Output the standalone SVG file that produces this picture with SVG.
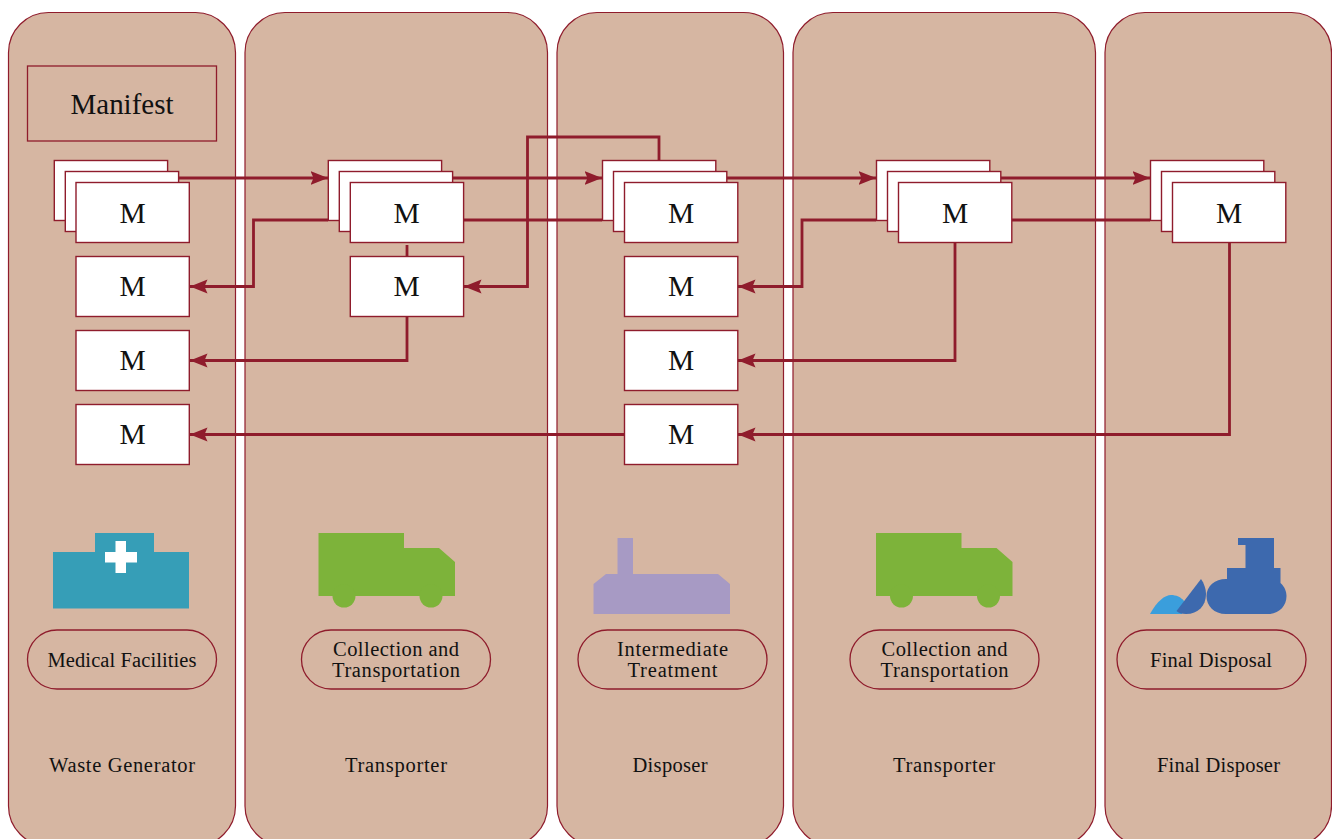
<svg xmlns="http://www.w3.org/2000/svg" width="1332" height="839" viewBox="0 0 1332 839">
<style>
.p{fill:#d6b6a2;stroke:#8f1c2c;stroke-width:1.2}
.m{fill:#fff;stroke:#8f1c2c;stroke-width:1.4}
.o{fill:none;stroke:#8f1c2c;stroke-width:1.3}
.c{fill:none;stroke:#8f1c2c;stroke-width:2.8;stroke-linejoin:miter}
text{font-family:"Liberation Serif","Times New Roman",serif;fill:#111;text-anchor:middle}
.t{font-size:20.5px}
.g{font-size:29.5px}
</style>
<defs>
<marker id="a" markerUnits="userSpaceOnUse" markerWidth="18" markerHeight="15" refX="17.500" refY="7" orient="auto"><path d="M0 0L17.500 7L0 14L3 7Z" fill="#8f1c2c"/></marker>
<g id="mb"><rect class="m" width="113.300" height="60"/></g>
</defs>
<g id="panels">
<rect class="p" x="8.500" y="12.500" width="227" height="833.500" rx="40"/>
<rect class="p" x="245" y="12.500" width="302.500" height="833.500" rx="40"/>
<rect class="p" x="557" y="12.500" width="226.500" height="833.500" rx="40"/>
<rect class="p" x="793" y="12.500" width="302.500" height="833.500" rx="40"/>
<rect class="p" x="1105" y="12.500" width="226.500" height="833.500" rx="40"/>
</g>
<g id="manifest"><rect class="o" x="27.500" y="66" width="189" height="75"/><text x="122" y="113.500" style="font-size:29px" textLength="103" lengthAdjust="spacing">Manifest</text></g>
<g id="connectors-back">
<path class="c" d="M464 220H602"/>
<path class="c" d="M1012 220H1150"/>
</g>
<g id="col1">
<use href="#mb" x="54.300" y="160.500"/><use href="#mb" x="65.300" y="171.500"/><use href="#mb" x="76" y="182.500"/>
<use href="#mb" x="76" y="256.500"/><use href="#mb" x="76" y="330.500"/><use href="#mb" x="76" y="404.500"/>
<text class="g" x="132.500" y="223">M</text><text class="g" x="132.500" y="296">M</text><text class="g" x="132.500" y="370">M</text><text class="g" x="132.500" y="444">M</text>
</g>
<g id="col2">
<use href="#mb" x="328.300" y="160.500"/><use href="#mb" x="339.300" y="171.500"/><use href="#mb" x="350.300" y="182.500"/>
<use href="#mb" x="350.300" y="256.500"/>
<text class="g" x="406.500" y="223">M</text><text class="g" x="406.500" y="296">M</text>
</g>
<g id="col3">
<use href="#mb" x="602.500" y="160.500"/><use href="#mb" x="613.500" y="171.500"/><use href="#mb" x="624.500" y="182.500"/>
<use href="#mb" x="624.500" y="256.500"/><use href="#mb" x="624.500" y="330.500"/><use href="#mb" x="624.500" y="404.500"/>
<text class="g" x="681" y="223">M</text><text class="g" x="681" y="296">M</text><text class="g" x="681" y="370">M</text><text class="g" x="681" y="444">M</text>
</g>
<g id="col4">
<use href="#mb" x="876.500" y="160.500"/><use href="#mb" x="887.500" y="171.500"/><use href="#mb" x="898.500" y="182.500"/>
<text class="g" x="955" y="223">M</text>
</g>
<g id="col5">
<use href="#mb" x="1150.500" y="160.500"/><use href="#mb" x="1161.500" y="171.500"/><use href="#mb" x="1172.500" y="182.500"/>
<text class="g" x="1229" y="223">M</text>
</g>
<g id="connectors">
<path class="c" marker-end="url(#a)" d="M179 178H328"/>
<path class="c" marker-end="url(#a)" d="M453 178H602"/>
<path class="c" marker-end="url(#a)" d="M727 178H876"/>
<path class="c" marker-end="url(#a)" d="M1001 178H1150"/>
<path class="c" marker-end="url(#a)" d="M328 220H253.500V286.500H190"/>
<path class="c" marker-end="url(#a)" d="M876 220H802V286.500H738"/>
<path class="c" d="M407 245V256"/>
<path class="c" marker-end="url(#a)" d="M407 317V360.500H190"/>
<path class="c" marker-end="url(#a)" d="M659 160V137H527.500V286.500H464"/>
<path class="c" marker-end="url(#a)" d="M955 243V360.500H738"/>
<path class="c" marker-end="url(#a)" d="M1229.500 243V434.500H738"/>
<path class="c" marker-end="url(#a)" d="M624 434.500H190"/>
</g>
<g id="icon-medical"><path fill="#369eb7" d="M53 552H95V533H154V552H189V608.500H53Z"/><path fill="#fff" d="M115.500 541H126V552H137V562.500H126V573H115.500V562.500H105V552H115.500Z"/></g>
<g id="icon-truck1" fill="#7db33a"><path d="M318.500 533H404V548H439L455 562V596H318.500Z"/><circle cx="344" cy="596" r="11.500"/><circle cx="431" cy="596" r="11.500"/></g>
<g id="icon-plant"><path fill="#a79ac4" d="M617.500 538H633V574H718L730 584V614H593.500V584L606 574H617.500Z"/></g>
<g id="icon-truck2" fill="#7db33a"><path d="M876 533H961.500V548H996.500L1012.500 562V596H876Z"/><circle cx="901.500" cy="596" r="11.500"/><circle cx="988.500" cy="596" r="11.500"/></g>
<g id="icon-dozer"><path fill="#3a9edc" d="M1150 614C1157 601 1165 595 1171 595C1176 595 1181 597 1184 601L1182 614Z"/>
<path fill="#3d69ae" d="M1176.500 611L1201 579C1204 583 1206 589 1206 594C1206 606 1198 614 1186 614C1182 614 1178 613 1176.500 611Z"/>
<path fill="#3d69ae" d="M1238 538H1274V568H1280.500V583C1285 587 1286.500 592 1286.500 596C1286.500 606 1279 614 1268 614H1226C1214 614 1206.500 606 1206.500 596C1206.500 586 1215 579 1226 579H1227V568H1245.500V545H1238Z"/></g>
<g id="label-medical"><rect class="o" x="27.500" y="630" width="189" height="59" rx="29.500"/><text class="t" x="122" y="667" textLength="149">Medical Facilities</text></g>
<g id="label-collection1"><rect class="o" x="301.500" y="630" width="189" height="59" rx="29.500"/><text class="t" x="396" y="656" textLength="126">Collection and</text><text class="t" x="396" y="677" textLength="128">Transportation</text></g>
<g id="label-intermediate"><rect class="o" x="578" y="630" width="189" height="59" rx="29.500"/><text class="t" x="672.500" y="656" textLength="111">Intermediate</text><text class="t" x="672.500" y="677" textLength="90">Treatment</text></g>
<g id="label-collection2"><rect class="o" x="850" y="630" width="189" height="59" rx="29.500"/><text class="t" x="944.500" y="656" textLength="126">Collection and</text><text class="t" x="944.500" y="677" textLength="128">Transportation</text></g>
<g id="label-final"><rect class="o" x="1117" y="630" width="189" height="59" rx="29.500"/><text class="t" x="1211" y="667" textLength="122">Final Disposal</text></g>
<g id="roles">
<text class="t" x="122" y="772" textLength="146">Waste Generator</text>
<text class="t" x="396" y="772" textLength="102">Transporter</text>
<text class="t" x="670" y="772" textLength="75">Disposer</text>
<text class="t" x="944" y="772" textLength="102">Transporter</text>
<text class="t" x="1218.500" y="772" textLength="123">Final Disposer</text>
</g>
</svg>
